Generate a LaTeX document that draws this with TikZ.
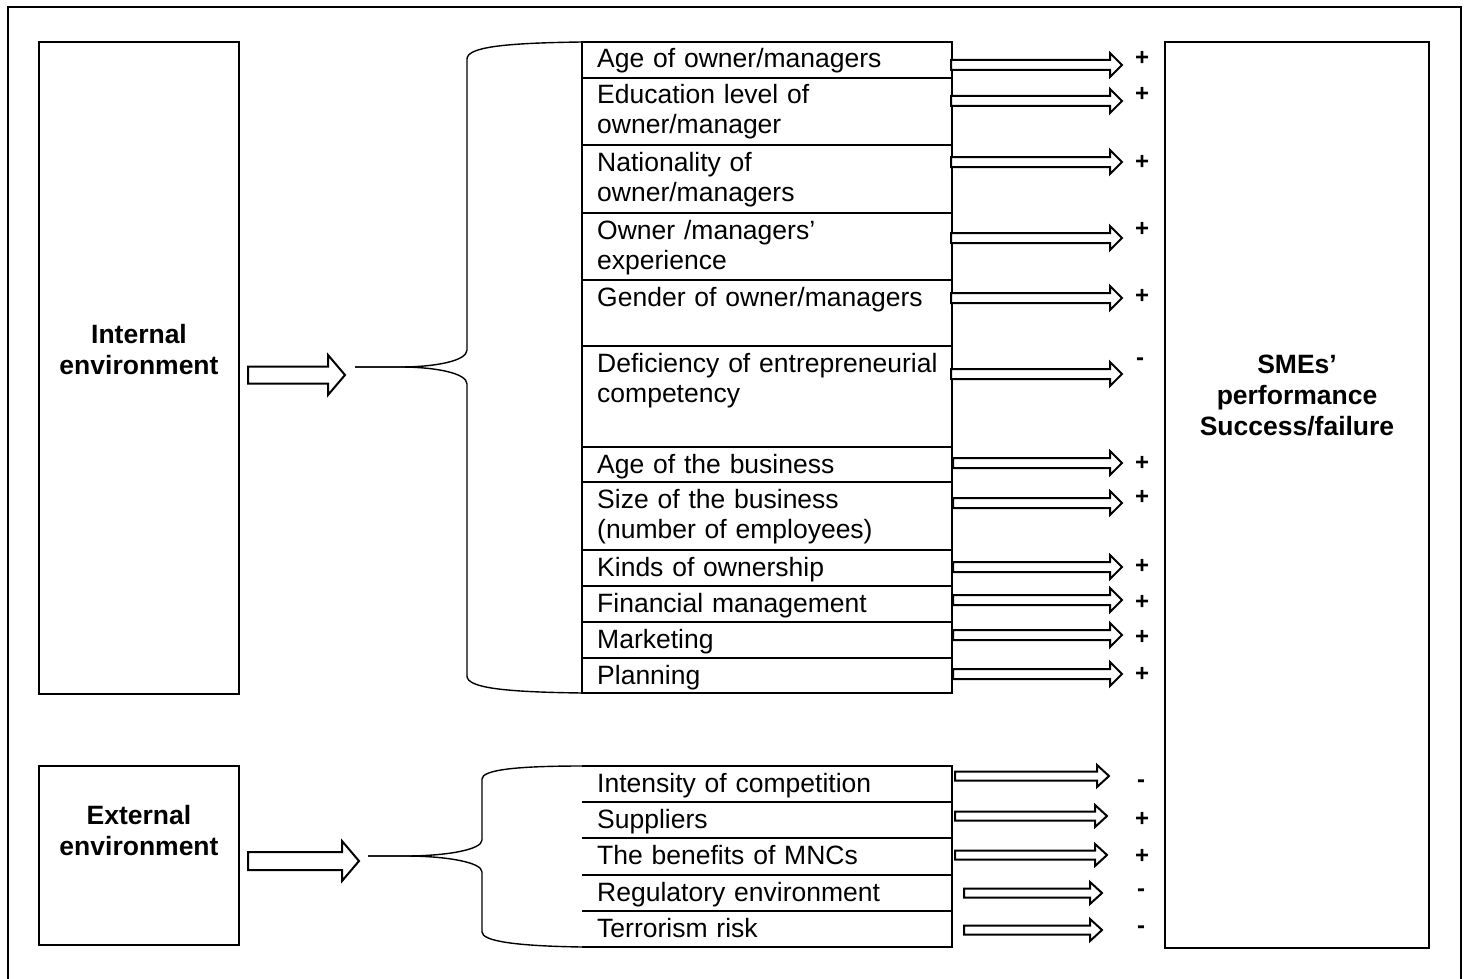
\documentclass[tikz,border=0pt]{standalone}
\usepackage{fontspec}
\setmainfont{Liberation Sans}
\newcommand\itemfont{\fontsize{26.5pt}{30pt}\selectfont}
\newcommand\headfont{\fontsize{26.5pt}{31pt}\selectfont\bfseries}
\newcommand\signfont{\fontsize{24pt}{24pt}\selectfont\bfseries}
% one cell of a factor list: name, top, bottom, text
\newcommand\factor[4]{%
  \draw[cell] (582,#2) rectangle (952,#3);
  \node[item] (#1) at (597,#2+26) {#4};}
% a cell of the open (left-less) list
\newcommand\openfactor[4]{%
  \draw[cell] (582,#2) -- (952,#2) -- (952,#3) -- (582,#3);
  \node[item] (#1) at (597,#2+26) {#4};}
% hollow block arrow: x start, x tip, y, shaft half height, head half height, head length
\newcommand\hollow[6]{%
  \draw[arrowline] (#1,#3-#4) -- (#2-#6,#3-#4) -- (#2-#6,#3-#5) -- (#2,#3)
    -- (#2-#6,#3+#5) -- (#2-#6,#3+#4) -- (#1,#3+#4) -- cycle;}
\begin{document}
\begin{tikzpicture}[x=1pt,y=-1pt,
  frame/.style={line width=2.8pt},
  cell/.style={line width=2.6pt},
  brace/.style={line width=1.4pt},
  arrowline/.style={line width=2pt,fill=white,line join=miter},
  item/.style={anchor=base west,inner sep=0pt,text width=345pt,align=left,font=\itemfont},
  head/.style={anchor=base,inner sep=0pt,align=center,font=\headfont},
  sign/.style={inner sep=0pt,font=\signfont}]
\useasboundingbox (0,0) rectangle (1466,979);

% outer frame, open at the bottom
\draw[frame] (8,990) -- (8,7) -- (1461,7) -- (1461,990);

% environment boxes (heading nodes are anchored at their last line)
\draw[frame] (39,42) rectangle (239,694);
\node[head] (internal) at (139,374) {Internal\\environment};
\draw[frame] (39,766) rectangle (239,945);
\node[head] (external) at (139,855) {External\\environment};

% outcome box
\draw[frame] (1165,42) rectangle (1429,948);
\node[head] (sme) at (1297,435) {SMEs'\\performance\\Success/failure};

% internal factors
\factor{f1}{42}{78}{Age of owner/managers}
\factor{f2}{78}{145}{Education level of\\owner/manager}
\factor{f3}{145}{213}{Nationality of\\owner/managers}
\factor{f4}{213}{280}{Owner /managers'\\experience}
\factor{f5}{280}{346}{Gender of owner/managers}
\factor{f6}{346}{447}{Deficiency of entrepreneurial\\competency}
\factor{f7}{447}{482}{Age of the business}
\factor{f8}{482}{550}{Size of the business\\(number of employees)}
\factor{f9}{550}{586}{Kinds of ownership}
\factor{f10}{586}{622}{Financial management}
\factor{f11}{622}{658}{Marketing}
\factor{f12}{658}{693}{Planning}

% external factors
\openfactor{e1}{766}{802}{Intensity of competition}
\openfactor{e2}{802}{838}{Suppliers}
\openfactor{e3}{838}{875}{The benefits of MNCs}
\openfactor{e4}{875}{911}{Regulatory environment}
\openfactor{e5}{911}{947}{Terrorism risk}

% braces
\draw[brace] (582,42) .. controls (505,43) and (467,47) .. (467,59) -- (467,350)
  .. controls (467,361) and (435,367) .. (400,367) -- (355,367);
\draw[brace] (355,367) -- (400,367) .. controls (435,367) and (467,373) .. (467,384)
  -- (467,676) .. controls (467,688) and (505,692) .. (582,693);
\draw[brace] (582,766) .. controls (515,766) and (482,770) .. (482,779) -- (482,840)
  .. controls (482,850) and (445,856) .. (405,856) -- (368,856);
\draw[brace] (368,856) -- (405,856) .. controls (445,856) and (482,862) .. (482,872)
  -- (482,932) .. controls (482,941) and (515,946) .. (582,947);

% arrows into the braces
\hollow{248}{345}{375}{8.5}{20}{17}
\hollow{248}{359}{861}{9}{20}{17}

% arrows from internal factors
\hollow{951}{1122}{65}{5}{12}{12}
\hollow{951}{1122}{101}{5}{12}{12}
\hollow{951}{1122}{162}{5}{12}{12}
\hollow{951}{1122}{238}{5}{12}{12}
\hollow{951}{1122}{298}{5}{12}{12}
\hollow{951}{1122}{374}{5}{12}{12}
\hollow{953}{1122}{463}{5}{12}{12}
\hollow{953}{1122}{503}{5}{12}{12}
\hollow{953}{1122}{567}{5}{12}{12}
\hollow{953}{1122}{600}{5}{12}{12}
\hollow{953}{1122}{635}{5}{12}{12}
\hollow{953}{1122}{674}{5}{12}{12}

% arrows from external factors
\hollow{955}{1109}{776}{4.5}{11}{12}
\hollow{955}{1107}{816}{4.5}{11}{12}
\hollow{955}{1107}{855}{4.5}{11}{12}
\hollow{964}{1102}{893}{4.5}{11}{12}
\hollow{964}{1102}{930}{4.5}{11}{12}

% effect signs
\node[sign] (s1) at (1142,58) {+};
\node[sign] (s2) at (1142,94) {+};
\node[sign] (s3) at (1142,162) {+};
\node[sign] (s4) at (1142,229) {+};
\node[sign] (s5) at (1142,296) {+};
\node[sign] (s6) at (1140,362) {-};
\node[sign] (s7) at (1142,463) {+};
\node[sign] (s8) at (1142,497) {+};
\node[sign] (s9) at (1142,566) {+};
\node[sign] (s10) at (1142,602) {+};
\node[sign] (s11) at (1142,637) {+};
\node[sign] (s12) at (1142,674) {+};
\node[sign] (t1) at (1141,784) {-};
\node[sign] (t2) at (1142,819) {+};
\node[sign] (t3) at (1142,856) {+};
\node[sign] (t4) at (1141,893) {-};
\node[sign] (t5) at (1141,930) {-};
\end{tikzpicture}
\end{document}
